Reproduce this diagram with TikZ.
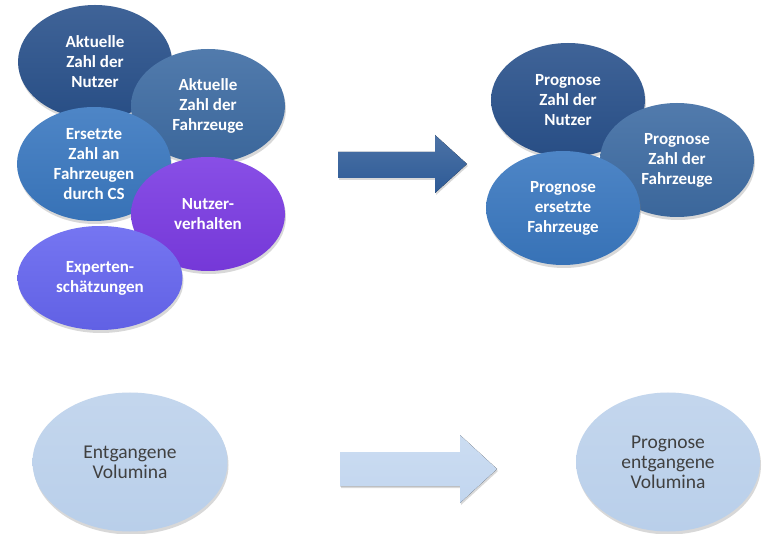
\documentclass[tikz,border=0pt]{standalone}
\usepackage{fontspec}
\setmainfont{Carlito}
\usetikzlibrary{shapes.geometric, shadows}

\definecolor{darkblue}{HTML}{2A528C}
\definecolor{steelblue}{HTML}{3E6CA3}
\definecolor{midblue}{HTML}{3A78C0}
\definecolor{violet}{HTML}{7B3BE3}
\definecolor{periwinkle}{HTML}{6666F0}
\definecolor{paleblue}{HTML}{B9CFEA}
\definecolor{arrowblue}{HTML}{2D5A96}
\definecolor{palearrow}{HTML}{C2D6EF}

\begin{document}
\begin{tikzpicture}[x=1pt,y=-1pt]
\tikzset{bubble/.style={ellipse,top color=#1!90!white,bottom color=#1!95!black,minimum width=154pt,minimum height=114pt,inner sep=0pt,align=center,text=white,font=\fontsize{17}{20}\selectfont\bfseries,drop shadow={opacity=0.3,shadow xshift=1pt,shadow yshift=-3pt}}}
\tikzset{volume/.style={ellipse,top color=paleblue!85!white,bottom color=paleblue,minimum width=190pt,minimum height=139pt,inner sep=0pt,align=center,text=black!75,font=\fontsize{19.5}{20}\selectfont,drop shadow={opacity=0.3,shadow xshift=1pt,shadow yshift=-3pt}}}
\tikzset{blockarrow/.style={top color=#1!85!white,bottom color=#1,drop shadow={opacity=0.3,shadow xshift=1pt,shadow yshift=-2pt}}}

\useasboundingbox[fill=white] (0,0) rectangle (763,534);

  % inputs
  \node [bubble=darkblue] (users) at (95,62) {Aktuelle\\Zahl der\\Nutzer};
  \node [bubble=steelblue] (vehicles) at (208,106) {Aktuelle\\Zahl der\\Fahrzeuge};
  \node [bubble=midblue] (replaced) at (94,164) {Ersetzte\\Zahl an\\Fahrzeugen\\durch CS};
  \node [bubble=violet] (behaviour) at (208,214) {Nutzer-\\verhalten};
  \node [bubble=periwinkle,minimum width=165pt,minimum height=104pt] (experts) at (100,278) {Experten-\\schätzungen};

  \fill [blockarrow=arrowblue] (338,152) -- (435,152) -- (435,135) -- (467,164) -- (435,193) -- (435,178) -- (338,178) -- cycle;

  % forecasts
  \node [bubble=darkblue] (users-fc) at (568,100) {Prognose\\Zahl der\\Nutzer};
  \node [bubble=steelblue] (vehicles-fc) at (677,160) {Prognose\\Zahl der\\Fahrzeuge};
  \node [bubble=midblue] (replaced-fc) at (563,208) {Prognose\\ersetzte\\Fahrzeuge};

  % volumes
  \node [volume,minimum width=195pt] (lost) at (130,462) {Entgangene\\Volumina};
  \fill [blockarrow=palearrow] (340,452) -- (460,452) -- (460,435) -- (497,469) -- (460,503) -- (460,486) -- (340,486) -- cycle;
  \node [volume,minimum width=184pt] (lost-fc) at (668,462) {Prognose\\entgangene\\Volumina};

\end{tikzpicture}
\end{document}
